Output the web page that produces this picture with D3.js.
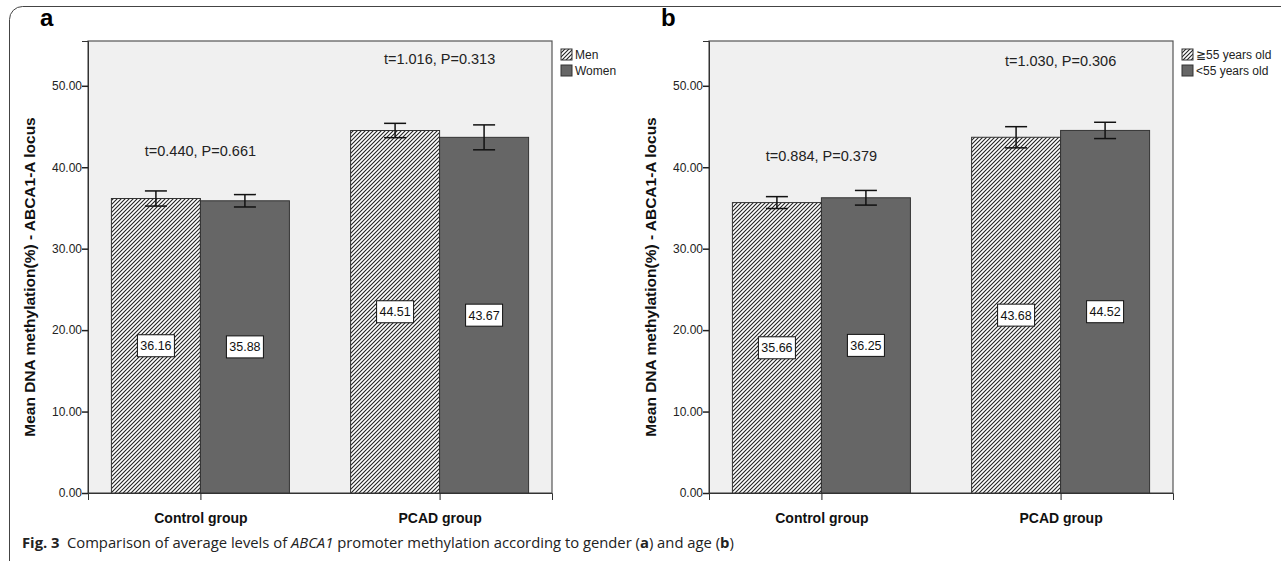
<!DOCTYPE html>
<html>
<head>
<meta charset="utf-8">
<script src="https://cdn.jsdelivr.net/npm/d3@7"></script>
<style>
  body { margin: 0; background: #fff; }
  svg { display: block; }
  text { font-family: Arial, "Liberation Sans", sans-serif; }
</style>
</head>
<body>
<div id="container"></div>
<script>
/* DATA */
const groups = ["Control group", "PCAD group"];
const yTicks = [0, 10, 20, 30, 40, 50];

// panel a - gender
const seriesA = ["Men", "Women"];
const menMeans = [36.16, 44.51];
const womenMeans = [35.88, 43.67];
const menErr = [0.93, 0.88];
const womenErr = [0.76, 1.53];
const statsA = ["t=0.440, P=0.661", "t=1.016, P=0.313"];

// panel b - age
const seriesB = ["\u226755 years old", "<55 years old"];
const oldMeans = [35.66, 43.68];
const youngMeans = [36.25, 44.52];
const oldErr = [0.73, 1.3];
const youngErr = [0.9, 1.0];
const statsB = ["t=0.884, P=0.379", "t=1.030, P=0.306"];

/* CONSTANTS */
const width = 1281, height = 561;
const plotTop = 41, plotBottom = 493, plotW = 464;
const barW = 89;

const svg = d3.select("#container").append("svg")
  .attr("width", width).attr("height", height);

// hatch pattern
const defs = svg.append("defs");
const pat = defs.append("pattern")
  .attr("id", "hatch").attr("patternUnits", "userSpaceOnUse")
  .attr("width", 4).attr("height", 4);
pat.append("rect").attr("width", 4).attr("height", 4).attr("fill", "#fff");
pat.append("path")
  .attr("d", "M-1,1 l2,-2 M0,4 l4,-4 M3,5 l2,-2")
  .attr("stroke", "#222").attr("stroke-width", 1.1);

// outer card
svg.append("rect")
  .attr("x", 9.5).attr("y", 6.5).attr("width", 1300).attr("height", 600)
  .attr("rx", 13).attr("fill", "none").attr("stroke", "#444").attr("stroke-width", 1);

const yScale = d3.scaleLinear().domain([0, 55.5]).range([plotBottom, plotTop]);

function drawPanel(left, letter, seriesNames, s1, s2, e1, e2, stats, statY, legendX) {
  const xScale = d3.scalePoint().domain(groups)
    .range([left, left + plotW]).padding(0.47);

  const g = svg.append("g");

  g.append("rect")
    .attr("x", left).attr("y", plotTop)
    .attr("width", plotW).attr("height", plotBottom - plotTop)
    .attr("fill", "#f0f0f0").attr("stroke", "#555").attr("stroke-width", 1.2);

  // letter
  g.append("text")
    .attr("x", left - 48).attr("y", 26)
    .attr("font-size", 24).attr("font-weight", "bold")
    .text(letter);

  // y axis
  const yAxis = d3.axisLeft(yScale).tickValues(yTicks)
    .tickFormat(d3.format(".2f")).tickSize(6);
  const ya = g.append("g").attr("transform", `translate(${left},0)`).call(yAxis);
  ya.select(".domain").attr("stroke", "#333");
  ya.selectAll(".tick line").attr("stroke", "#222").attr("stroke-width", 1.5);
  ya.selectAll(".tick text").attr("font-size", 12).attr("fill", "#222")
    .attr("font-family", "Arial, 'Liberation Sans', sans-serif").attr("x", -6);

  // x axis
  const xAxis = d3.axisBottom(xScale).tickSize(7).tickPadding(10);
  const xa = g.append("g").attr("transform", `translate(0,${plotBottom})`).call(xAxis);
  xa.select(".domain").attr("stroke", "#333");
  xa.selectAll(".tick line").attr("stroke", "#222");
  xa.selectAll(".tick text").attr("font-size", 14).attr("font-weight", "bold")
    .attr("fill", "#111").attr("font-family", "Arial, 'Liberation Sans', sans-serif")
    .attr("dy", "0.9em");

  // y label
  g.append("text")
    .attr("transform", `translate(${left - 53},${(plotTop + plotBottom) / 2 + 10}) rotate(-90)`)
    .attr("text-anchor", "middle")
    .attr("font-size", 15.5).attr("font-weight", "bold").attr("fill", "#111")
    .text("Mean DNA methylation(%) - ABCA1-A locus");

  const rows = [];
  groups.forEach((grp, i) => {
    rows.push({ grp, k: 0, v: s1[i], e: e1[i] });
    rows.push({ grp, k: 1, v: s2[i], e: e2[i] });
  });

  // bars
  g.selectAll(".bar").data(rows).join("rect")
    .attr("x", d => xScale(d.grp) - barW + d.k * barW)
    .attr("y", d => yScale(d.v))
    .attr("width", barW)
    .attr("height", d => yScale(0) - yScale(d.v))
    .attr("fill", d => d.k === 0 ? "url(#hatch)" : "#666")
    .attr("stroke", "#333").attr("stroke-width", 1);

  // error bars
  const cap = 11;
  const eb = g.selectAll(".err").data(rows).join("g")
    .attr("transform", d => `translate(${xScale(d.grp) - barW / 2 + d.k * barW},0)`);
  eb.append("line").attr("x1", 0).attr("x2", 0)
    .attr("y1", d => yScale(d.v + d.e)).attr("y2", d => yScale(d.v - d.e))
    .attr("stroke", "#111").attr("stroke-width", 1.5);
  eb.append("line").attr("x1", -cap).attr("x2", cap)
    .attr("y1", d => yScale(d.v + d.e)).attr("y2", d => yScale(d.v + d.e))
    .attr("stroke", "#111").attr("stroke-width", 1.5);
  eb.append("line").attr("x1", -cap).attr("x2", cap)
    .attr("y1", d => yScale(d.v - d.e)).attr("y2", d => yScale(d.v - d.e))
    .attr("stroke", "#111").attr("stroke-width", 1.5);

  // value labels
  const lab = g.selectAll(".lab").data(rows).join("g")
    .attr("transform", d => `translate(${xScale(d.grp) - barW / 2 + d.k * barW},${yScale(d.v / 2)})`);
  lab.append("rect").attr("x", -18.5).attr("y", -11).attr("width", 37).attr("height", 22)
    .attr("fill", "#fff").attr("stroke", "#111").attr("stroke-width", 1);
  lab.append("text").attr("text-anchor", "middle").attr("dy", "0.36em")
    .attr("font-size", 12.5).attr("fill", "#111")
    .text(d => d3.format(".2f")(d.v));

  // stats
  g.selectAll(".stat").data(groups).join("text")
    .attr("x", d => xScale(d))
    .attr("y", (d, i) => yScale(statY[i]))
    .attr("text-anchor", "middle").attr("dy", "0.35em")
    .attr("font-size", 14.5).attr("fill", "#222")
    .text((d, i) => stats[i]);

  // legend
  const lg = g.append("g").attr("transform", `translate(${legendX},49)`);
  seriesNames.forEach((name, i) => {
    lg.append("rect").attr("x", 0).attr("y", i * 16).attr("width", 11).attr("height", 11)
      .attr("fill", i === 0 ? "url(#hatch)" : "#666").attr("stroke", "#333");
    lg.append("text").attr("x", 14).attr("y", i * 16 + 6).attr("dy", "0.35em")
      .attr("font-size", 12).attr("fill", "#222").text(name);
  });
}

drawPanel(88, "a", seriesA, menMeans, womenMeans, menErr, womenErr, statsA, [42.0, 53.3], 561);
drawPanel(709, "b", seriesB, oldMeans, youngMeans, oldErr, youngErr, statsB, [41.4, 53.0], 1182);

// caption
const cap = svg.append("text").attr("x", 22).attr("y", 548)
  .attr("font-size", 14.8).attr("fill", "#222")
  .style("font-family", "'Open Sans', 'Noto Sans', sans-serif");
cap.append("tspan").attr("font-weight", "bold").text("Fig. 3");
cap.append("tspan").text("\u2002Comparison of average levels of ");
cap.append("tspan").attr("font-style", "italic").text("ABCA1");
cap.append("tspan").text(" promoter methylation according to gender (");
cap.append("tspan").attr("font-weight", "bold").text("a");
cap.append("tspan").text(") and age (");
cap.append("tspan").attr("font-weight", "bold").text("b");
cap.append("tspan").text(")");
</script>
</body>
</html>
